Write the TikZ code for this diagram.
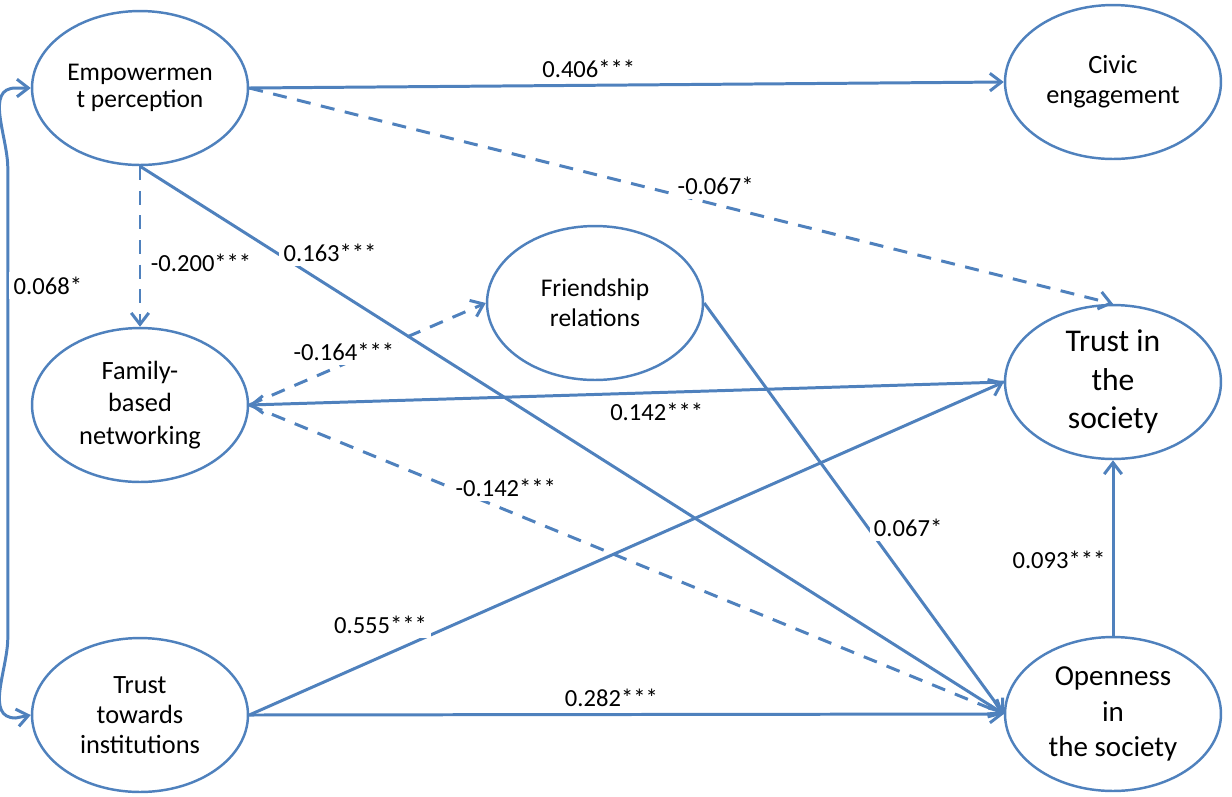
\documentclass[tikz,border=0pt]{standalone}
\usepackage{fontspec}
\setmainfont{Carlito}
\usetikzlibrary{arrows.meta,shapes.geometric}
\definecolor{pathblue}{HTML}{4F81BD}

\begin{document}
\begin{tikzpicture}[x=0.02cm,y=-0.02cm,
  >={Straight Barb[length=6.5pt,width=10pt]},
  var/.style={ellipse,draw=pathblue,line width=1.4pt,fill=white,
    minimum width=4.32cm,minimum height=3.08cm,inner sep=0pt,align=center,
    font=\fontsize{15}{17}\selectfont},
  link/.style={->,draw=pathblue,line width=1.7pt},
  neg/.style={link,dash pattern=on 8pt off 6pt},
  coef/.style={fill=white,inner sep=2.5pt,font=\fontsize{14}{16}\selectfont}]
  \useasboundingbox (0,0) rectangle (1232,796);

  % Latent variables
  \node[var,font=\fontsize{14.5}{15}\selectfont] (emp) at (140,88) {Empowermen\\t perception};
  \node[var] (civ) at (1113,82) {Civic\\engagement};
  \node[var,font=\fontsize{15}{18.5}\selectfont] (fam) at (140,405) {Family-\\based\\networking};
  \node[var,font=\fontsize{14.5}{17}\selectfont] (fri) at (595,303) {Friendship\\relations};
  \node[var,font=\fontsize{18}{22}\selectfont] (tso) at (1113,382) {Trust in\\the\\society};
  \node[var] (tti) at (140,715) {Trust\\towards\\institutions};
  \node[var,font=\fontsize{16.5}{20}\selectfont] (ope) at (1113,714) {Openness\\in\\the society};

  % Paths from empowerment
  \draw[link] (emp.east) -- node[coef,pos=0.45,anchor=south,yshift=1pt] {0.406***} (civ.west);
  \draw[neg] (emp.east) -- node[coef,pos=0.54,yshift=0.38cm] {-0.067*} (tso.north);
  \draw[neg] (emp.south) -- node[coef,pos=0.6,anchor=west,xshift=0.1cm] {-0.200***} (fam.north);
  \draw[link] (emp.south) -- node[coef,pos=0.22,yshift=0.68cm] {0.163***} (ope.west);

  % Paths around family-based networking
  \draw[neg] (fam.east) -- node[coef,pos=0.4,yshift=0.24cm] {-0.164***} (fri.west);
  \draw[link] (tso.west) -- node[coef,pos=0.46,yshift=-0.38cm] {0.142***} (fam.east);
  \draw[neg] (fam.east) -- node[coef,pos=0.34,yshift=0.44cm] {-0.142***} (ope.west);
  \draw[link] (fri.east) -- node[coef,pos=0.547,anchor=west] {0.067*} (ope.west);

  % Paths from trust towards institutions
  \draw[link] (tti.east) -- node[coef,pos=0.174,yshift=0.64cm] {0.555***} (tso.west);
  \draw[link] (tti.east) -- node[coef,pos=0.48,anchor=south,yshift=1pt] {0.282***} (ope.west);
  \draw[link] (ope.north) -- node[coef,pos=0.43,anchor=east,xshift=-1pt] {0.093***} (tso.south);

  % Covariance
  \draw[link,<->] (emp.west) -- ++(-15,0) to[out=180,in=90] ++(-8,80)
    -- node[coef,pos=0.25,anchor=west,xshift=0pt] {0.068*} ++(0,470)
    to[out=-90,in=180] ++(8,80) -- (tti.west);
\end{tikzpicture}
\end{document}
